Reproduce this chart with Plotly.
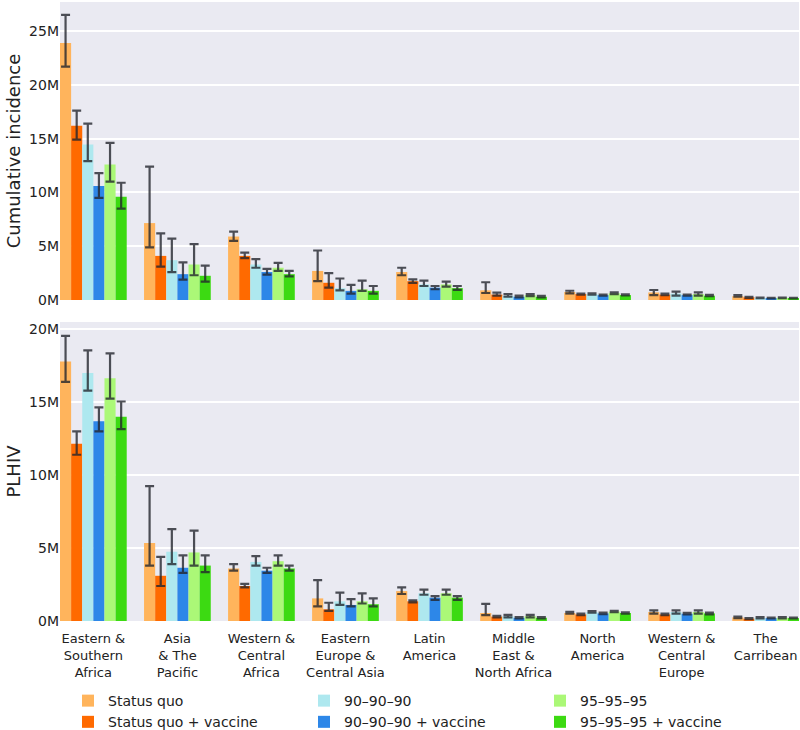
import plotly.graph_objects as go

regions = ["Eastern &<br>Southern<br>Africa", "Asia<br>& The<br>Pacific", "Western &<br>Central<br>Africa",
           "Eastern<br>Europe &<br>Central Asia", "Latin<br>America", "Middle<br>East &<br>North Africa",
           "North<br>America", "Western &<br>Central<br>Europe", "The<br>Carribean"]
scenarios = ["Status quo", "Status quo + vaccine", "90–90–90", "90–90–90 + vaccine", "95–95–95", "95–95–95 + vaccine"]
colors = ["#FFB45C", "#FF6A00", "#AEE8EF", "#2D87E8", "#ABF877", "#3CDA12"]

inc_ticks = [0, 5, 10, 15, 20, 25]
pl_ticks = [0, 5, 10, 15, 20]

# Cumulative incidence (millions)
inc_sq = [23.9, 7.15, 5.9, 2.7, 2.6, 0.9, 0.75, 0.7, 0.35]
inc_sq_lo = [21.7, 4.9, 5.5, 1.75, 2.3, 0.65, 0.62, 0.46, 0.3]
inc_sq_hi = [26.5, 12.4, 6.35, 4.6, 3.0, 1.65, 0.86, 0.93, 0.45]
inc_sqv = [16.2, 4.1, 4.1, 1.6, 1.75, 0.5, 0.55, 0.5, 0.25]
inc_sqv_lo = [14.9, 3.1, 3.9, 1.15, 1.6, 0.4, 0.5, 0.45, 0.2]
inc_sqv_hi = [17.6, 6.2, 4.4, 2.5, 1.92, 0.68, 0.6, 0.6, 0.3]
inc_90 = [14.45, 3.7, 3.3, 1.1, 1.45, 0.4, 0.55, 0.6, 0.2]
inc_90_lo = [12.9, 2.6, 3.0, 0.9, 1.3, 0.3, 0.5, 0.4, 0.17]
inc_90_hi = [16.4, 5.7, 3.8, 2.0, 1.8, 0.55, 0.62, 0.77, 0.23]
inc_90v = [10.6, 2.4, 2.6, 0.85, 1.15, 0.3, 0.45, 0.45, 0.18]
inc_90v_lo = [9.5, 1.9, 2.35, 0.6, 1.0, 0.25, 0.4, 0.4, 0.15]
inc_90v_hi = [11.8, 3.5, 2.9, 1.4, 1.3, 0.4, 0.5, 0.5, 0.21]
inc_95 = [12.6, 3.3, 3.0, 1.0, 1.45, 0.45, 0.62, 0.55, 0.2]
inc_95_lo = [11.0, 2.3, 2.7, 0.85, 1.25, 0.35, 0.55, 0.4, 0.17]
inc_95_hi = [14.6, 5.2, 3.45, 1.8, 1.7, 0.55, 0.7, 0.7, 0.23]
inc_95v = [9.6, 2.25, 2.4, 0.85, 1.1, 0.3, 0.46, 0.4, 0.17]
inc_95v_lo = [8.5, 1.7, 2.2, 0.6, 0.95, 0.25, 0.42, 0.35, 0.15]
inc_95v_hi = [10.9, 3.2, 2.7, 1.3, 1.3, 0.38, 0.52, 0.47, 0.2]

# People living with HIV (millions)
pl_sq = [17.8, 5.35, 3.6, 1.55, 2.05, 0.55, 0.55, 0.62, 0.25]
pl_sq_lo = [16.4, 3.8, 3.45, 1.0, 1.85, 0.4, 0.5, 0.5, 0.2]
pl_sq_hi = [19.55, 9.25, 3.9, 2.8, 2.3, 1.18, 0.62, 0.73, 0.3]
pl_sqv = [12.15, 3.1, 2.4, 0.8, 1.35, 0.3, 0.45, 0.45, 0.16]
pl_sqv_lo = [11.4, 2.4, 2.3, 0.7, 1.27, 0.25, 0.4, 0.4, 0.13]
pl_sqv_hi = [13.0, 4.4, 2.55, 1.25, 1.42, 0.36, 0.5, 0.5, 0.2]
pl_90 = [17.0, 4.75, 4.05, 1.35, 1.9, 0.33, 0.62, 0.62, 0.22]
pl_90_lo = [15.8, 3.9, 3.8, 1.1, 1.8, 0.25, 0.57, 0.5, 0.18]
pl_90_hi = [18.55, 6.3, 4.45, 1.95, 2.15, 0.42, 0.68, 0.73, 0.26]
pl_90v = [13.7, 3.65, 3.45, 1.1, 1.6, 0.22, 0.52, 0.5, 0.2]
pl_90v_lo = [13.0, 3.3, 3.3, 1.0, 1.45, 0.18, 0.47, 0.45, 0.17]
pl_90v_hi = [14.65, 4.5, 3.65, 1.5, 1.7, 0.27, 0.57, 0.56, 0.23]
pl_95 = [16.65, 4.7, 4.1, 1.35, 1.9, 0.33, 0.65, 0.62, 0.22]
pl_95_lo = [15.25, 3.8, 3.8, 1.2, 1.8, 0.25, 0.6, 0.5, 0.18]
pl_95_hi = [18.35, 6.2, 4.5, 1.9, 2.15, 0.42, 0.7, 0.73, 0.26]
pl_95v = [14.0, 3.8, 3.6, 1.15, 1.6, 0.22, 0.55, 0.52, 0.2]
pl_95v_lo = [13.15, 3.35, 3.45, 1.0, 1.45, 0.18, 0.5, 0.45, 0.17]
pl_95v_hi = [15.05, 4.5, 3.8, 1.55, 1.7, 0.27, 0.6, 0.58, 0.23]

inc = [(inc_sq, inc_sq_lo, inc_sq_hi), (inc_sqv, inc_sqv_lo, inc_sqv_hi),
       (inc_90, inc_90_lo, inc_90_hi), (inc_90v, inc_90v_lo, inc_90v_hi),
       (inc_95, inc_95_lo, inc_95_hi), (inc_95v, inc_95v_lo, inc_95v_hi)]
pl = [(pl_sq, pl_sq_lo, pl_sq_hi), (pl_sqv, pl_sqv_lo, pl_sqv_hi),
      (pl_90, pl_90_lo, pl_90_hi), (pl_90v, pl_90v_lo, pl_90v_hi),
      (pl_95, pl_95_lo, pl_95_hi), (pl_95v, pl_95v_lo, pl_95v_hi)]

xpos = list(range(len(regions)))
FONT = "DejaVu Sans"
ERRC = "rgba(35,38,45,0.8)"
legend_rank = [1, 4, 2, 5, 3, 6]

fig = go.Figure()
for panel, data, xa, ya in [(0, inc, "x", "y"), (1, pl, "x2", "y2")]:
    for i, (vals, lo, hi) in enumerate(data):
        fig.add_trace(go.Bar(
            x=xpos, y=vals, name=scenarios[i], marker=dict(color=colors[i], line=dict(width=0)),
            error_y=dict(type="data", symmetric=False,
                         array=[h - v for h, v in zip(hi, vals)],
                         arrayminus=[v - l for v, l in zip(vals, lo)],
                         color=ERRC, thickness=2.2, width=4.5),
            xaxis=xa, yaxis=ya, showlegend=(panel == 0), legendgroup=scenarios[i],
            legendrank=legend_rank[i]))

H = 730
xrange = [-0.397, 8.397]
grid = dict(showgrid=True, gridcolor="white", gridwidth=2, zeroline=False, showline=False,
            ticks="", tickfont=dict(family=FONT, size=14, color="#222"))
fig.update_layout(
    width=800, height=H, margin=dict(l=60, r=1, t=0, b=0, autoexpand=False),
    paper_bgcolor="white", plot_bgcolor="#EAEAF2",
    barmode="group", bargap=0.206, bargroupgap=0,
    font=dict(family=FONT, color="#222"),
    xaxis=dict(domain=[0, 1], range=xrange, anchor="y", showticklabels=False, showgrid=False,
               zeroline=False, ticks="", tickvals=xpos),
    xaxis2=dict(domain=[0, 1], range=xrange, anchor="y2", showgrid=False, zeroline=False, ticks="",
                tickvals=xpos, ticktext=regions, tickangle=0, automargin=False, ticklabelstandoff=8,
                tickfont=dict(family=FONT, size=13, color="#222")),
    yaxis=dict(domain=[1 - 300 / H, 1 - 2 / H], range=[0, 27.7], tickvals=inc_ticks,
               ticktext=[f"{t}M" for t in inc_ticks],
               title=dict(text="Cumulative incidence", font=dict(family=FONT, size=18, color="#222"), standoff=3),
               automargin=False, **grid),
    yaxis2=dict(domain=[1 - 621 / H, 1 - 322 / H], range=[0, 20.5], tickvals=pl_ticks,
                ticktext=[f"{t}M" for t in pl_ticks],
                title=dict(text="PLHIV", font=dict(family=FONT, size=18, color="#222"), standoff=3),
                automargin=False, **grid),
    legend=dict(orientation="h", x=8 / 739, xanchor="left", y=-0.011, yanchor="bottom",
                entrywidth=191, entrywidthmode="pixels", traceorder="normal",
                font=dict(family=FONT, size=14, color="#222"), itemwidth=30,
                bgcolor="rgba(0,0,0,0)"),
)

fig.write_html("out.html", config={"displayModeBar": False},
               post_script="document.body.style.margin='0';document.body.style.overflow='hidden';")
